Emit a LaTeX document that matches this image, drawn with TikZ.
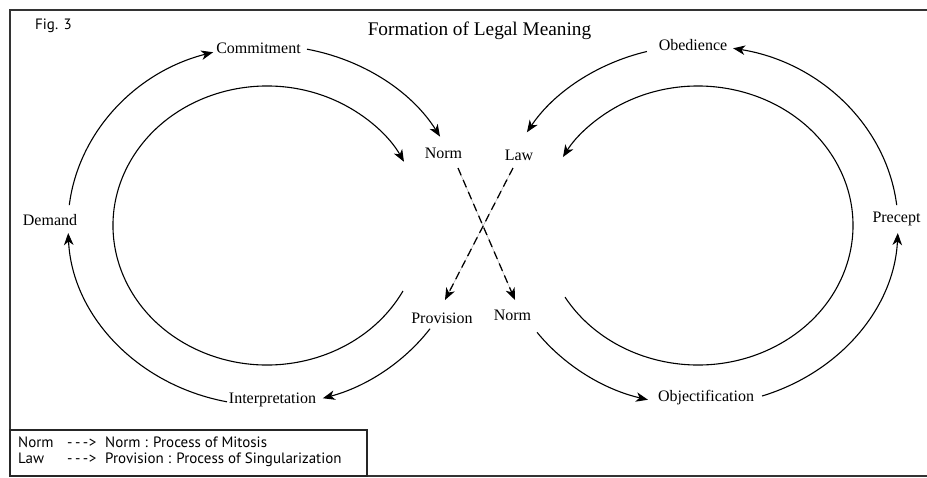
\documentclass[tikz,border=0pt]{standalone}
\usepackage{fontspec}
\setmainfont{Liberation Serif}
\newfontfamily\legendfont{PT Sans}
\usetikzlibrary{arrows.meta}
\begin{document}
\begin{tikzpicture}[x=1pt,y=1pt,
  lbl/.style={font=\fontsize{16}{18}\selectfont, inner sep=0pt, anchor=base},
  legtxt/.style={font=\legendfont\fontsize{15}{17}\selectfont, inner sep=0pt, anchor=base west},
  arcline/.style={line width=1.1pt, -{Stealth[length=12pt,width=9.5pt,inset=3.5pt]}},
  dashline/.style={line width=1.25pt, dash pattern=on 8pt off 5pt, -{Stealth[length=12pt,width=9.5pt,inset=3.5pt]}},
  guide/.style={line width=0.4pt, black!35},
  frameline/.style={line width=1.4pt, black!80},
  legbox/.style={line width=1.1pt, black!85}
]
\useasboundingbox (0,0) rectangle (927,-477);

% frame
\draw[frameline] (927,-10) -- (10,-10) -- (10,-476) -- (927,-476);
\draw[legbox] (10,-430) rectangle (367,-476);

% texts
\node[legtxt] (fig) at (35,-29) {Fig. 3};
\node[lbl, font=\fontsize{19.3}{22}\selectfont] (title) at (479.5,-35) {Formation of Legal Meaning};

\node[lbl] (commit) at (258.5,-53) {Commitment};
\node[lbl] (demand) at (50,-225) {Demand};
\node[lbl] (interp) at (272.5,-403) {Interpretation};
\node[lbl] (prov) at (442,-323) {Provision};
\node[lbl] (normL) at (512.5,-320) {Norm};
\node[lbl] (normU) at (443.5,-158) {Norm};
\node[lbl] (law) at (519,-160) {Law};
\node[lbl] (obed) at (693,-50) {Obedience};
\node[lbl] (precept) at (896.5,-222) {Precept};
\node[lbl] (objec) at (706,-401) {Objectification};

% ellipse centres
\coordinate (cL) at (267,-225.5);
\coordinate (cR) at (698,-225.5);

% left outer arcs
\draw[arcline] (cL) ++(173.5:199 and 180) arc[start angle=173.5, end angle=105.7, x radius=199, y radius=180];
\draw[arcline] (cL) ++(78.4:199 and 180) arc[start angle=78.4, end angle=29.6, x radius=199, y radius=180];
\draw[arcline] (cL) ++(-35:199 and 180) arc[start angle=-35, end angle=-73.7, x radius=199, y radius=180];
\draw[arcline] (cL) ++(-101.6:199 and 180) arc[start angle=-101.6, end angle=-177.6, x radius=199, y radius=180];
% left inner arc
\draw[arcline] (cL) ++(-28:154 and 139.5) arc[start angle=-28, end angle=-332.8, x radius=154, y radius=139.5];

% right outer arcs
\draw[arcline] (cR) ++(6.5:200 and 180) arc[start angle=6.5, end angle=79.9, x radius=200, y radius=180];
\draw[arcline] (cR) ++(104.8:200 and 180) arc[start angle=104.8, end angle=148.8, x radius=200, y radius=180];
\draw[arcline] (cR) ++(216.4:200 and 180) arc[start angle=216.4, end angle=255.5, x radius=200, y radius=180];
\draw[arcline] (cR) ++(288.7:200 and 180) arc[start angle=288.7, end angle=357.6, x radius=200, y radius=180];
% right inner arc
\draw[arcline] (cR) ++(210.9:155 and 139.5) arc[start angle=210.9, end angle=510.6, x radius=155, y radius=139.5];

% dashed crossing lines
\coordinate (nUs) at (458,-168);
\coordinate (nLe) at (515,-300);
\coordinate (lws) at (513,-168);
\coordinate (pve) at (445,-300);
\draw[guide] (nUs) -- (nLe);
\draw[guide] (lws) -- (pve);
\draw[dashline] (nUs) -- (nLe);
\draw[dashline] (lws) -- (pve);

% legend
\node[legtxt] (l1a) at (18,-447) {Norm};
\node[legtxt] (l1b) at (67,-447) {-\kern2.5pt-\kern2.5pt-\kern0.5pt>};
\node[legtxt] (l1c) at (105,-447) {Norm : Process of Mitosis};
\node[legtxt] (l2a) at (18,-463) {Law};
\node[legtxt] (l2b) at (67,-463) {-\kern2.5pt-\kern2.5pt-\kern0.5pt>};
\node[legtxt] (l2c) at (105,-463) {Provision : Process of Singularization};
\end{tikzpicture}
\end{document}
